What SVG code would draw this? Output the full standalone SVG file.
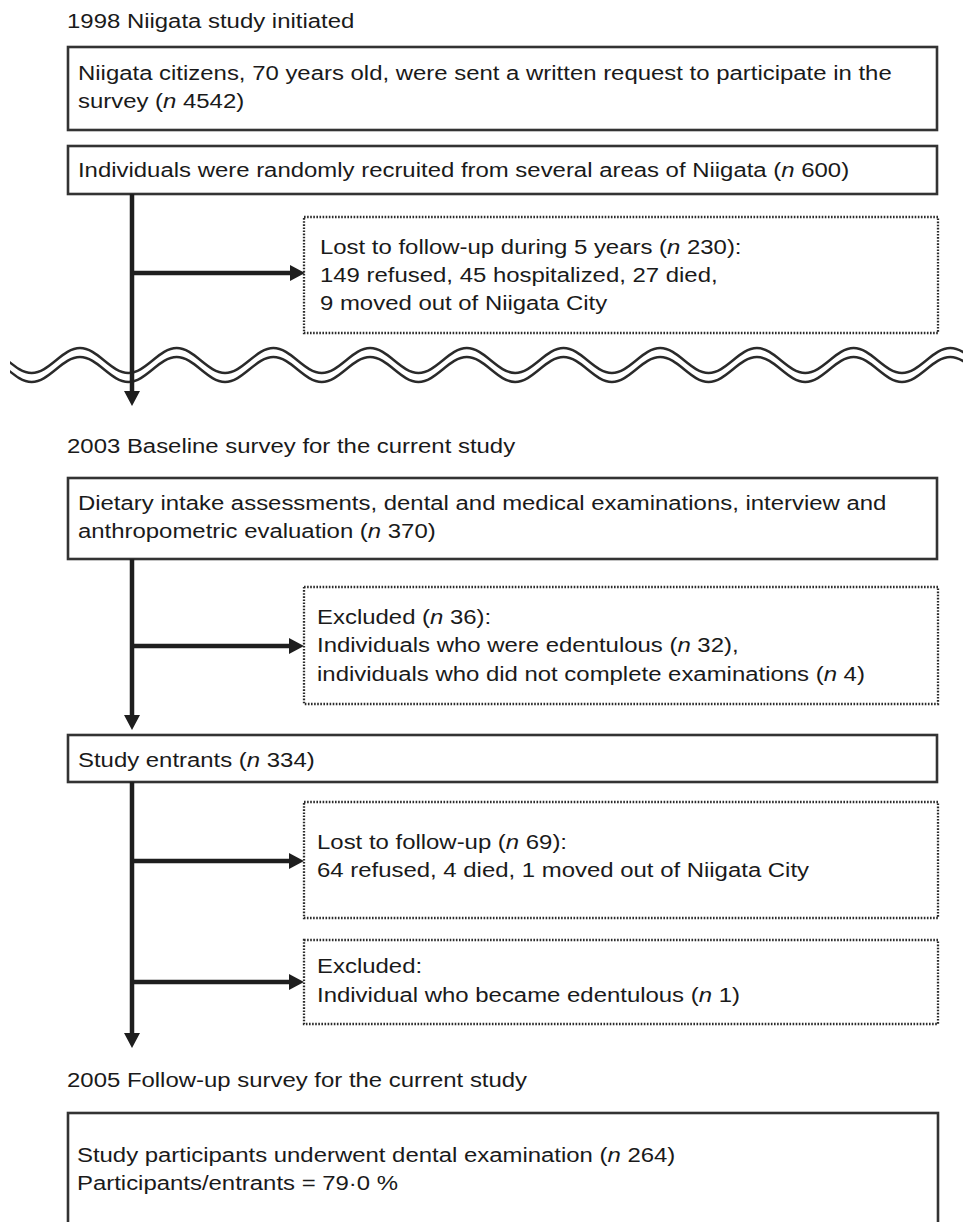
<svg xmlns="http://www.w3.org/2000/svg" width="963" height="1222" viewBox="0 0 963 1222">
<style>
  .box { fill: #ffffff; stroke: #333333; stroke-width: 2.6; }
  .dbox { fill: #ffffff; stroke: #2a2a2a; stroke-width: 2.3; stroke-dasharray: 1.6 1.5; }
  .conn { fill: none; stroke: #1e1e1e; stroke-width: 4.5; }
  .wave { fill: none; stroke: #2a2a2a; stroke-width: 2.5; }
  text { font-family: "Liberation Sans", Arial, sans-serif; font-size: 21px; fill: #1a1a1a; }
  .it { font-style: italic; }
</style>
<defs>
  <marker id="ah" markerUnits="userSpaceOnUse" markerWidth="16" markerHeight="16" refX="0" refY="8" orient="auto">
    <path d="M0,0 L15,8 L0,16 z" fill="#1e1e1e"/>
  </marker>
  <clipPath id="wclip"><rect x="10" y="330" width="960" height="70"/></clipPath>
  <path id="wv" d="M-16.7,348 c17.6,0 30.75,25 48.35,25 c17.6,0 30.75,-25 48.35,-25 c17.6,0 30.75,25 48.35,25 c17.6,0 30.75,-25 48.35,-25 c17.6,0 30.75,25 48.35,25 c17.6,0 30.75,-25 48.35,-25 c17.6,0 30.75,25 48.35,25 c17.6,0 30.75,-25 48.35,-25 c17.6,0 30.75,25 48.35,25 c17.6,0 30.75,-25 48.35,-25 c17.6,0 30.75,25 48.35,25 c17.6,0 30.75,-25 48.35,-25 c17.6,0 30.75,25 48.35,25 c17.6,0 30.75,-25 48.35,-25 c17.6,0 30.75,25 48.35,25 c17.6,0 30.75,-25 48.35,-25 c17.6,0 30.75,25 48.35,25 c17.6,0 30.75,-25 48.35,-25 c17.6,0 30.75,25 48.35,25 c17.6,0 30.75,-25 48.35,-25 c17.6,0 30.75,25 48.35,25 c17.6,0 30.75,-25 48.35,-25"/>
</defs>
<rect x="0" y="0" width="963" height="1222" fill="#ffffff"/>

<g id="break-wave" clip-path="url(#wclip)">
  <use href="#wv" class="wave"/>
  <use href="#wv" class="wave" transform="translate(0,9)"/>
</g>

<g id="box-invited"><rect class="box" x="68" y="47" width="869" height="83"/></g>
<g id="box-recruited"><rect class="box" x="68" y="146" width="869" height="48"/></g>
<g id="box-lost5"><rect class="dbox" x="304" y="217" width="634" height="116"/></g>
<g id="box-baseline"><rect class="box" x="68" y="478" width="869" height="81"/></g>
<g id="box-excluded36"><rect class="dbox" x="304" y="587" width="634" height="117"/></g>
<g id="box-entrants"><rect class="box" x="68" y="735" width="869" height="47"/></g>
<g id="box-lost69"><rect class="dbox" x="304" y="802" width="634" height="116"/></g>
<g id="box-excluded1"><rect class="dbox" x="304" y="940" width="634" height="84"/></g>
<g id="box-participants"><rect class="box" x="68" y="1113" width="870" height="130"/></g>

<g id="connectors">
  <line class="conn" x1="132" y1="194" x2="132" y2="391" marker-end="url(#ah)"/>
  <line class="conn" x1="130" y1="273" x2="290" y2="273" marker-end="url(#ah)"/>
  <line class="conn" x1="132" y1="559" x2="132" y2="715" marker-end="url(#ah)"/>
  <line class="conn" x1="130" y1="646" x2="289" y2="646" marker-end="url(#ah)"/>
  <line class="conn" x1="132" y1="782" x2="132" y2="1033" marker-end="url(#ah)"/>
  <line class="conn" x1="130" y1="861" x2="289" y2="861" marker-end="url(#ah)"/>
  <line class="conn" x1="130" y1="982" x2="289" y2="982" marker-end="url(#ah)"/>
</g>

<g id="labels" transform="scale(1.14 1)">
  <text x="58.8" y="28">1998 Niigata study initiated</text>
  <text x="68.4" y="80">Niigata citizens, 70 years old, were sent a written request to participate in the</text>
  <text x="68.4" y="108">survey (<tspan class="it">n</tspan> 4542)</text>
  <text x="68.4" y="177">Individuals were randomly recruited from several areas of Niigata (<tspan class="it">n</tspan> 600)</text>
  <text x="280.7" y="254">Lost to follow-up during 5 years (<tspan class="it">n</tspan> 230):</text>
  <text x="280.7" y="282">149 refused, 45 hospitalized, 27 died,</text>
  <text x="280.7" y="310">9 moved out of Niigata City</text>
  <text x="58.8" y="453">2003 Baseline survey for the current study</text>
  <text x="68.4" y="510">Dietary intake assessments, dental and medical examinations, interview and</text>
  <text x="68.4" y="538">anthropometric evaluation (<tspan class="it">n</tspan> 370)</text>
  <text x="278.1" y="624">Excluded (<tspan class="it">n</tspan> 36):</text>
  <text x="278.1" y="652">Individuals who were edentulous (<tspan class="it">n</tspan> 32),</text>
  <text x="278.1" y="681">individuals who did not complete examinations (<tspan class="it">n</tspan> 4)</text>
  <text x="68.4" y="767">Study entrants (<tspan class="it">n</tspan> 334)</text>
  <text x="278.1" y="849">Lost to follow-up (<tspan class="it">n</tspan> 69):</text>
  <text x="278.1" y="877">64 refused, 4 died, 1 moved out of Niigata City</text>
  <text x="278.1" y="973">Excluded:</text>
  <text x="278.1" y="1002">Individual who became edentulous (<tspan class="it">n</tspan> 1)</text>
  <text x="58.8" y="1087">2005 Follow-up survey for the current study</text>
  <text x="67.5" y="1162">Study participants underwent dental examination (<tspan class="it">n</tspan> 264)</text>
  <text x="67.5" y="1190">Participants/entrants = 79·0 %</text>
</g>
</svg>
